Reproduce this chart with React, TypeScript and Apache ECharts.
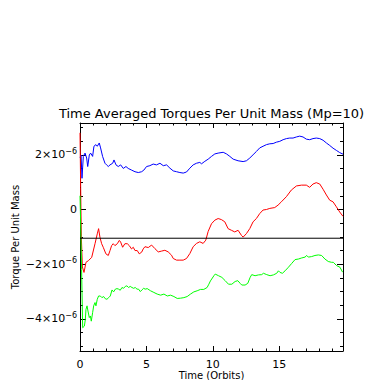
import React, { useEffect, useRef } from "react";
import * as echarts from "echarts";

// Values in units of 1e-6 (torque per unit mass), time in orbits
const X_MAJOR = [0, 5, 10, 15];
const X_MINOR = [1, 2, 3, 4, 6, 7, 8, 9, 11, 12, 13, 14, 16, 17, 18, 19];
const Y_MAJOR = [-4, -2, 0, 2];
const Y_MINOR = [-5, -4.5, -3.5, -3, -2.5, -1.5, -1, -0.5, 0.5, 1, 1.5, 2.5, 3];
const X_MIN = 0;
const X_MAX = 19.8;
const Y_MIN = -5.17;
const Y_MAX = 3.16;
const REF_LEVEL = -1.05;

const TITLE = "Time Averaged Torques Per Unit Mass (Mp=10)";
const X_NAME = "Time (Orbits)";
const Y_NAME = "Torque Per Unit Mass";

const blueTorque: [number, number][] = [
  [0, 1.9], [0.08, 1.99], [0.15, 1.14], [0.25, 1.94], [0.38, 2.06], [0.5, 1.88], [0.58, 1.57],
  [0.7, 1.99], [0.8, 2.06], [0.95, 1.94], [1.05, 2.31], [1.2, 2.37], [1.3, 2.31], [1.45, 2.43],
  [1.55, 2.25], [1.7, 1.94], [1.88, 1.69], [2.0, 1.63], [2.13, 1.57], [2.26, 1.63], [2.46, 1.69],
  [2.56, 1.81], [2.71, 1.63], [2.88, 1.57], [3.06, 1.63], [3.26, 1.5], [3.46, 1.57], [3.63, 1.5],
  [3.88, 1.44], [4.14, 1.38], [4.39, 1.35], [4.64, 1.38], [4.81, 1.44], [5.01, 1.57], [5.26, 1.6],
  [5.51, 1.66], [5.76, 1.63], [6.02, 1.69], [6.27, 1.6], [6.52, 1.63], [6.77, 1.51], [7.02, 1.41],
  [7.27, 1.38], [7.52, 1.35], [7.77, 1.33], [8.02, 1.37], [8.27, 1.51], [8.52, 1.63], [8.77, 1.69],
  [9.02, 1.72], [9.15, 1.67], [9.4, 1.76], [9.65, 1.84], [9.9, 1.94], [10.15, 2.03], [10.4, 2.06],
  [10.78, 2.09], [11.03, 2.03], [11.28, 1.94], [11.53, 1.84], [11.9, 1.78], [12.28, 1.75],
  [12.53, 1.78], [12.78, 1.88], [13.03, 2.0], [13.28, 2.12], [13.53, 2.25], [13.78, 2.31],
  [14.04, 2.37], [14.29, 2.4], [14.54, 2.41], [14.79, 2.46], [15.04, 2.49], [15.29, 2.55],
  [15.54, 2.59], [15.79, 2.61], [16.04, 2.61], [16.29, 2.65], [16.54, 2.68], [16.79, 2.65],
  [17.04, 2.57], [17.29, 2.55], [17.54, 2.59], [17.79, 2.61], [18.05, 2.59], [18.3, 2.53],
  [18.55, 2.43], [18.8, 2.34], [19.05, 2.24], [19.3, 2.16], [19.55, 2.08], [19.8, 2.02],
];

const redTorque: [number, number][] = [
  [0, 2.8], [0.05, 0.8], [0.1, -1.0], [0.18, -2.1], [0.3, -2.3], [0.45, -1.93], [0.63, -1.87],
  [0.88, -1.75], [1.13, -1.25], [1.3, -0.89], [1.4, -0.7], [1.5, -1.01], [1.63, -1.25],
  [1.75, -1.38], [1.95, -1.62], [2.13, -1.68], [2.26, -1.5], [2.38, -1.32], [2.5, -1.25],
  [2.63, -1.32], [2.81, -1.25], [2.96, -1.13], [3.06, -1.19], [3.21, -1.38], [3.38, -1.25],
  [3.56, -1.25], [3.71, -1.32], [3.88, -1.44], [4.01, -1.38], [4.14, -1.5], [4.31, -1.5],
  [4.46, -1.62], [4.64, -1.56], [4.76, -1.44], [4.89, -1.36], [5.14, -1.39], [5.39, -1.3],
  [5.64, -1.43], [5.89, -1.55], [6.14, -1.52], [6.39, -1.49], [6.64, -1.55], [6.89, -1.67],
  [7.02, -1.79], [7.27, -1.85], [7.52, -1.85], [7.77, -1.85], [8.02, -1.79], [8.27, -1.61],
  [8.52, -1.36], [8.77, -1.24], [9.02, -1.18], [9.27, -1.24], [9.47, -1.12], [9.65, -0.8],
  [9.9, -0.52], [10.15, -0.39], [10.4, -0.33], [10.65, -0.37], [10.9, -0.45], [11.15, -0.7],
  [11.4, -0.76], [11.65, -0.82], [11.9, -0.76], [12.16, -0.95], [12.28, -1.01], [12.53, -0.88],
  [12.78, -0.7], [13.03, -0.45], [13.28, -0.33], [13.53, -0.15], [13.78, -0.02], [14.04, 0.0],
  [14.29, 0.04], [14.66, 0.07], [14.91, 0.16], [15.16, 0.28], [15.54, 0.47], [15.91, 0.71],
  [16.29, 0.86], [16.67, 0.89], [17.04, 0.89], [17.29, 0.81], [17.54, 0.93], [17.79, 0.98],
  [18.05, 0.93], [18.3, 0.74], [18.55, 0.53], [18.8, 0.34], [19.05, 0.28], [19.3, 0.1],
  [19.55, -0.09], [19.8, -0.25],
];

const greenTorque: [number, number][] = [
  [0, 0.5], [0.05, -0.5], [0.12, -2.2], [0.2, -4.32], [0.33, -4.26], [0.4, -4.02], [0.45, -3.65],
  [0.53, -3.52], [0.6, -3.71], [0.7, -3.95], [0.78, -3.89], [0.85, -4.08], [0.95, -3.77],
  [1.03, -3.52], [1.13, -3.4], [1.2, -3.52], [1.3, -3.28], [1.4, -3.16], [1.53, -3.16],
  [1.65, -3.22], [1.78, -3.18], [1.9, -3.26], [2.03, -3.28], [2.16, -3.22], [2.28, -3.16],
  [2.41, -2.94], [2.53, -3.01], [2.66, -2.91], [2.78, -2.89], [2.91, -2.91], [3.03, -2.95],
  [3.16, -2.85], [3.28, -2.88], [3.41, -2.81], [3.53, -2.79], [3.66, -2.85], [3.78, -2.81],
  [3.91, -2.85], [4.04, -2.88], [4.16, -2.85], [4.29, -2.91], [4.41, -2.91], [4.54, -3.0],
  [4.66, -2.94], [4.79, -2.88], [4.91, -2.91], [5.06, -2.89], [5.31, -2.97], [5.56, -3.03],
  [5.81, -3.09], [6.07, -3.13], [6.32, -3.09], [6.57, -3.16], [6.82, -3.13], [7.07, -3.18],
  [7.32, -3.25], [7.57, -3.24], [7.82, -3.22], [8.07, -3.18], [8.32, -3.09], [8.57, -3.01],
  [8.82, -2.97], [9.07, -2.92], [9.32, -2.92], [9.57, -2.85], [9.7, -2.73], [9.82, -2.61],
  [10.08, -2.42], [10.18, -2.36], [10.43, -2.42], [10.68, -2.48], [10.93, -2.6], [11.18, -2.73],
  [11.43, -2.73], [11.68, -2.63], [11.88, -2.6], [12.06, -2.7], [12.18, -2.76], [12.43, -2.76],
  [12.63, -2.7], [12.81, -2.48], [12.93, -2.38], [13.18, -2.42], [13.43, -2.39], [13.68, -2.38],
  [13.81, -2.33], [14.06, -2.38], [14.31, -2.42], [14.56, -2.39], [14.81, -2.33], [14.94, -2.24],
  [15.06, -2.3], [15.24, -2.33], [15.44, -2.24], [15.69, -2.11], [15.94, -1.97], [16.19, -1.83],
  [16.44, -1.81], [16.69, -1.77], [16.94, -1.74], [17.07, -1.68], [17.19, -1.74], [17.44, -1.72],
  [17.69, -1.68], [17.94, -1.66], [18.19, -1.68], [18.44, -1.81], [18.69, -1.9], [18.94, -1.93],
  [19.07, -1.93], [19.32, -2.05], [19.57, -2.11], [19.77, -2.29],
];

const FONT = '"DejaVu Sans", sans-serif';

function yLabel(v: number): string {
  if (Math.abs(v) < 1e-9) return "{b|0}";
  return `{b|${v < 0 ? "\u2212" : ""}${Math.abs(v)}\u00d710}{s|\u22126}`;
}

function makeXAxis(position: string, ticks: number[], len: number, labels: boolean, line: boolean) {
  return {
    type: "value",
    position,
    min: X_MIN,
    max: X_MAX,
    axisLine: { show: line, onZero: false, lineStyle: { color: "#000", width: 1 } },
    axisTick: { show: true, inside: true, length: len, customValues: ticks, lineStyle: { color: "#000", width: 1 } },
    axisLabel: {
      show: labels,
      customValues: ticks,
      color: "#000",
      fontSize: 11,
      fontFamily: FONT,
      margin: 8,
    },
    splitLine: { show: false },
  };
}

function makeYAxis(position: string, ticks: number[], len: number, labels: boolean, line: boolean) {
  return {
    type: "value",
    position,
    min: Y_MIN,
    max: Y_MAX,
    axisLine: { show: line, onZero: false, lineStyle: { color: "#000", width: 1 } },
    axisTick: { show: true, inside: true, length: len, customValues: ticks, lineStyle: { color: "#000", width: 1 } },
    axisLabel: {
      show: labels,
      customValues: ticks,
      color: "#000",
      fontSize: 11,
      fontFamily: FONT,
      margin: 3,
      formatter: yLabel,
      rich: {
        b: { fontSize: 11, fontFamily: FONT, color: "#000", lineHeight: 11 },
        s: { fontSize: 8, fontFamily: FONT, color: "#000", lineHeight: 8, padding: [0, 0, 7, 0] },
      },
    },
    splitLine: { show: false },
  };
}

export default function App() {
  const ref = useRef<HTMLDivElement>(null);
  useEffect(() => {
    if (!ref.current) return;
    const chart = echarts.init(ref.current, null, { renderer: "svg" });
    const lineSeries = (name: string, data: [number, number][], color: string, z: number) => ({
      name,
      type: "line",
      data,
      xAxisIndex: 0,
      yAxisIndex: 0,
      showSymbol: false,
      symbol: "none",
      lineStyle: { color, width: 1 },
      itemStyle: { color },
      silent: true,
      z,
    });
    chart.setOption({
      animation: false,
      backgroundColor: "#ffffff",
      grid: { left: 80, right: 39, top: 123, bottom: 29, containLabel: false },
      xAxis: [
        makeXAxis("bottom", X_MAJOR, 5, true, true),
        makeXAxis("bottom", X_MINOR, 2.5, false, false),
        makeXAxis("top", X_MAJOR, 5, false, true),
        makeXAxis("top", X_MINOR, 2.5, false, false),
      ],
      yAxis: [
        makeYAxis("left", Y_MAJOR, 6, true, true),
        makeYAxis("left", Y_MINOR, 3, false, false),
        makeYAxis("right", Y_MAJOR, 6, false, true),
        makeYAxis("right", Y_MINOR, 3, false, false),
      ],
      series: [
        lineSeries("blue", blueTorque, "#0000ff", 2),
        lineSeries("red", redTorque, "#ff0000", 2),
        lineSeries("green", greenTorque, "#00ff00", 2),
        lineSeries("ref", [[X_MIN, REF_LEVEL], [X_MAX, REF_LEVEL]], "#000000", 3),
      ],
      graphic: [
        {
          type: "text",
          x: 211.5,
          y: 113,
          style: { text: TITLE, font: `13px ${FONT}`, fill: "#000", align: "center", verticalAlign: "middle" },
        },
        {
          type: "text",
          x: 211.5,
          y: 375,
          style: { text: X_NAME, font: `10px ${FONT}`, fill: "#000", align: "center", verticalAlign: "middle" },
        },
        {
          type: "text",
          x: 15,
          y: 237,
          rotation: Math.PI / 2,
          style: { text: Y_NAME, font: `10px ${FONT}`, fill: "#000", align: "center", verticalAlign: "middle" },
        },
      ],
    });
    return () => chart.dispose();
  }, []);
  return (
    <div
      ref={ref}
      style={{ position: "fixed", left: 0, top: 0, width: 382, height: 380, background: "#fff" }}
    />
  );
}
